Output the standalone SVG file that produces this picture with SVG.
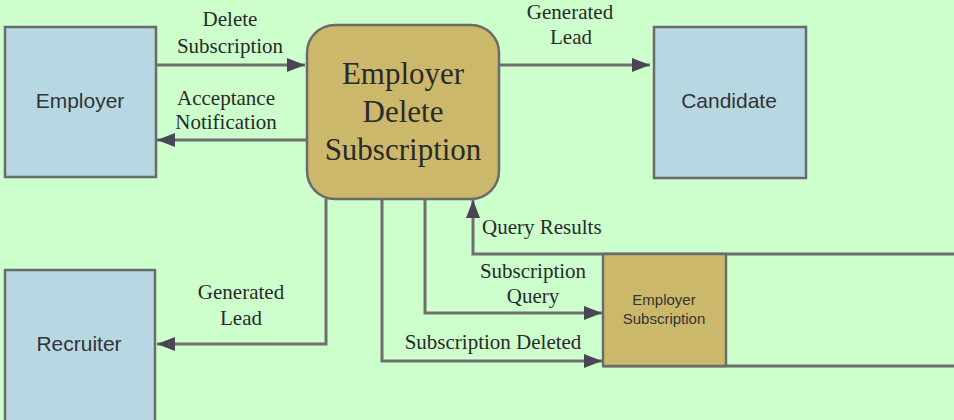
<svg xmlns="http://www.w3.org/2000/svg" width="954" height="420" viewBox="0 0 954 420">
<defs>
<style>
.ext{fill:#B7D8E2;stroke:#6b6b6b;stroke-width:2.5}
.proc{fill:#CCB86B;stroke:#6b6b6b;stroke-width:2.5}
.sans{font-family:"Liberation Sans",Arial,sans-serif;fill:#333333;text-anchor:middle}
.serif{font-family:"Liberation Serif","Times New Roman",serif;fill:#2a2a2a;text-anchor:middle}
.lbl{font-size:21px}
.conn path{fill:none;stroke:#6e6e6e;stroke-width:3;marker-end:url(#ah)}
.ds{fill:none;stroke:#6e6e6e;stroke-width:3}
</style>
<marker id="ah" markerUnits="userSpaceOnUse" markerWidth="18" markerHeight="14" refX="18" refY="7" orient="auto">
<path d="M0,0 L18,7 L0,14 z" fill="#4b4656"/>
</marker>
</defs>
<rect width="954" height="420" fill="#CCFFCC"/>

<g id="employer">
<rect class="ext" x="5" y="27" width="151" height="150"/>
<text class="sans" x="80" y="108" font-size="21">Employer</text>
</g>

<g id="candidate">
<rect class="ext" x="654" y="27" width="152" height="151"/>
<text class="sans" x="729" y="108" font-size="21">Candidate</text>
</g>

<g id="recruiter">
<rect class="ext" x="5" y="270" width="150" height="160"/>
<text class="sans" x="79" y="351" font-size="21">Recruiter</text>
</g>

<g id="process">
<rect class="proc" x="307" y="25" width="192" height="174" rx="28" ry="28"/>
<text class="serif" x="403" y="84" font-size="31">Employer</text>
<text class="serif" x="403" y="122" font-size="31">Delete</text>
<text class="serif" x="403" y="160" font-size="31">Subscription</text>
</g>

<g id="datastore">
<line class="ds" x1="603" y1="254" x2="954" y2="254"/>
<line class="ds" x1="603" y1="366" x2="954" y2="366"/>
<rect class="proc" x="603" y="254" width="123" height="112"/>
<text class="sans" x="664" y="305" font-size="15">Employer</text>
<text class="sans" x="664" y="324" font-size="15">Subscription</text>
</g>

<g id="connectors" class="conn">
<path d="M156,65 H305"/>
<path d="M307,140 H157"/>
<path d="M499,65 H650"/>
<path d="M326,199 V344 H157"/>
<path d="M382,199 V361 H602"/>
<path d="M425,199 V313 H602"/>
<path d="M603,254 H473 V200"/>
</g>

<g id="labels" class="serif lbl">
<text x="230" y="26">Delete</text>
<text x="230" y="53">Subscription</text>
<text x="226" y="105">Acceptance</text>
<text x="226" y="129">Notification</text>
<text x="570" y="19">Generated</text>
<text x="571" y="44">Lead</text>
<text x="241" y="299">Generated</text>
<text x="241" y="325">Lead</text>
<text x="482" y="234" text-anchor="start">Query Results</text>
<text x="533" y="278">Subscription</text>
<text x="533" y="303">Query</text>
<text x="493" y="349">Subscription Deleted</text>
</g>
</svg>
